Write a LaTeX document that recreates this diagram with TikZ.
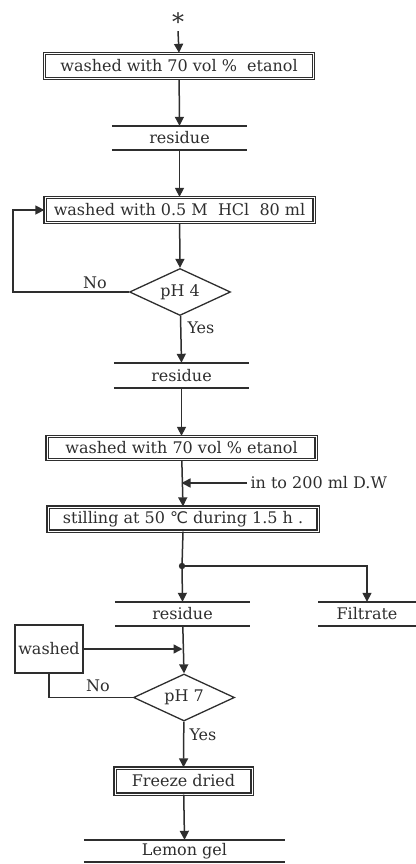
\documentclass[tikz,border=0pt]{standalone}
\usepackage{fontspec}
\setmainfont{DejaVu Serif}
\newfontfamily\symfont{DejaVu Sans}
\usetikzlibrary{arrows.meta,shapes.geometric}
\definecolor{Ink}{HTML}{2E2E2E}

\begin{document}
\begin{tikzpicture}[x=1pt,y=-1pt,
    every node/.style={font=\fontsize{16}{18}\selectfont,text=Ink},
    flow/.style={Ink,line width=1.5pt,-{Triangle[length=9pt,width=9pt]}},
    link/.style={Ink,line width=1.5pt},
    proc/.style={draw=Ink,double=white,double distance=0.8pt,line width=1.3pt,inner sep=1pt,minimum width=269pt,minimum height=25pt},
    stock/.style={inner sep=0pt,minimum width=135pt,minimum height=24pt},
    decide/.style={diamond,draw=Ink,line width=1.3pt,aspect=2.2,inner sep=0pt,minimum width=101pt,minimum height=47pt}]
  \useasboundingbox (0,0) rectangle (415,864);

  \node[font=\fontsize{24}{24}\selectfont,inner sep=0pt] (star) at (178,22) {*};
  \node[proc] (wash1) at (179,66) {washed with 70 vol~\%~~etanol};
  \node[stock] (res1) at (179.5,138) {residue};
  \node[proc] (wash2) at (179.5,210) {washed with 0.5 M~~HCl~~80 ml};
  \node[decide] (ph4) at (180,292) {pH 4};
  \node (no4) at (95,283) {No};
  \node[anchor=west] (yes4) at (184,328) {Yes};
  \node[stock,minimum height=25pt] (res2) at (181.5,375.5) {residue};
  \node[proc,minimum height=23pt] (wash3) at (181.5,448) {washed with 70 vol \% etanol};
  \node[anchor=west] (dw) at (247,483) {in to 200 ml D.W};
  \node[proc,minimum width=270pt,minimum height=24pt] (stir) at (183,519) {stilling at 50 {\symfont ℃} during 1.5 h .};
  \coordinate (split) at (182,566);
  \node[stock] (res3) at (182.5,614) {residue};
  \node[stock,minimum width=97pt] (filt) at (367,614) {Filtrate};
  \node[draw=Ink,line width=1.6pt,minimum width=68pt,minimum height=48pt,inner sep=0pt] (rewash) at (49,649) {washed};
  \node[decide] (ph7) at (184,697.5) {pH 7};
  \node (no7) at (98,686) {No};
  \node[anchor=west] (yes7) at (186,735) {Yes};
  \node[proc,minimum width=137pt,minimum height=26pt] (dry) at (183.5,781) {Freeze dried};
  \node[stock,minimum width=201pt,minimum height=22pt] (gel) at (184.5,851) {Lemon gel};

  \foreach \n in {res1,res2,res3,filt,gel}
    \draw[Ink,line width=2pt] (\n.north west) -- (\n.north east) (\n.south west) -- (\n.south east);

  \coordinate (loop4) at (13,292);
  \draw[flow] (star.south) -- (wash1.north);
  \draw[flow] (wash1) -- (res1.north);
  \draw[flow] (res1) -- (wash2.north);
  \draw[flow] (wash2) -- (ph4.north);
  \draw[flow] (ph4.west) -- (loop4) |- (wash2.west);
  \draw[flow] (ph4) -- (res2.north);
  \draw[flow] (res2) -- (wash3.north);
  \draw[flow] (wash3) -- (stir.north);
  \draw[flow] (dw.west) -- (dw.west -| wash3.south);
  \draw[link] (stir.south) -- (split);
  \fill[Ink] (split) circle (3.2pt);
  \draw[flow] (split) -- (res3.north);
  \draw[flow] (split) -| (filt.north);
  \draw[flow] (res3) -- (ph7.north);
  \draw[flow] (rewash.east) -- (rewash.east -| res3.south);
  \draw[link] (ph7.west) -| (rewash.south);
  \draw[flow] (ph7) -- (dry.north);
  \draw[flow] (dry) -- (gel.north);
\end{tikzpicture}
\end{document}
